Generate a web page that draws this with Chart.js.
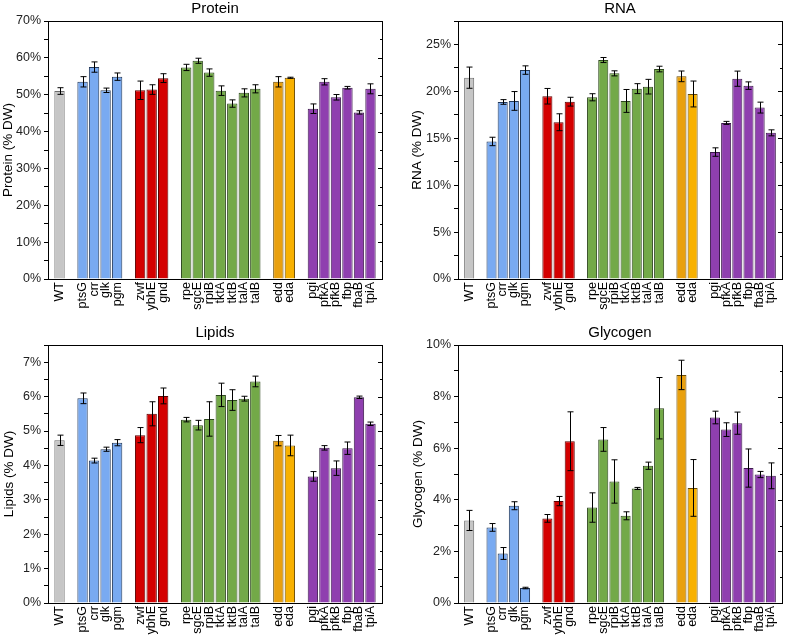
<!DOCTYPE html>
<html>
<head>
<meta charset="utf-8">
<script src="https://cdn.jsdelivr.net/npm/chart.js@4.4.1/dist/chart.umd.min.js"></script>
<style>
  body { margin: 0; background: #fff; }
  #wrap { position: relative; width: 800px; height: 637px; }
  canvas { position: absolute; }
</style>
</head>
<body>
<div id="wrap">
  <canvas id="proteinChart" width="400" height="318" style="left:0;top:0"></canvas>
  <canvas id="rnaChart" width="400" height="318" style="left:400px;top:0"></canvas>
  <canvas id="lipidChart" width="400" height="319" style="left:0;top:318px"></canvas>
  <canvas id="glycogenChart" width="400" height="319" style="left:400px;top:318px"></canvas>
</div>
<script>
// genes (x categories), grouped by pathway; a gap is left between groups
const genes = ['WT', 'ptsG', 'crr', 'glk', 'pgm', 'zwf', 'ybhE', 'gnd',
  'rpe', 'sgcE', 'rpiB', 'tktA', 'tktB', 'talA', 'talB', 'edd', 'eda',
  'pgi', 'pfkA', 'pfkB', 'fbp', 'fbaB', 'tpiA'];
const groups = [0, 1, 1, 1, 1, 2, 2, 2, 3, 3, 3, 3, 3, 3, 3, 4, 4, 5, 5, 5, 5, 5, 5];

const groupFill = ['#c6c6c6', '#79aaf1', '#d40000', '#73a948', '#f8b100', '#8f3faf'];
const groupEdge = ['#6a6a6a', '#22385a', '#5a0000', '#2e481e', '#6a4a00', '#3c1a4c'];
const fillOverride = { edd: '#e9a00e' };

// values in % of dry weight and error (±)
const proteinVals = [51.0, 53.5, 57.5, 51.2, 54.9, 51.2, 51.4, 54.5, 57.4, 59.2, 56.0, 51.1, 47.6, 50.5, 51.6, 53.5, 54.6, 46.2, 53.5, 49.3, 51.9, 45.2, 51.6];
const proteinErr = [0.9, 1.4, 1.4, 0.6, 1.0, 2.5, 1.3, 1.2, 0.85, 0.7, 1.0, 1.3, 1.0, 1.1, 1.1, 1.4, 0.15, 1.3, 0.85, 0.75, 0.35, 0.45, 1.35];

const rnaVals = [21.46, 14.66, 18.87, 18.98, 22.27, 19.48, 16.71, 18.9, 19.37, 23.34, 21.92, 18.98, 20.29, 20.5, 22.38, 21.6, 19.72, 13.53, 16.64, 21.35, 20.61, 18.27, 15.58];
const rnaErr = [1.13, 0.45, 0.25, 1.0, 0.45, 0.83, 0.9, 0.47, 0.38, 0.27, 0.27, 1.22, 0.53, 0.78, 0.3, 0.57, 1.38, 0.45, 0.16, 0.81, 0.4, 0.58, 0.32];

const lipidVals = [4.73, 5.95, 4.14, 4.47, 4.66, 4.88, 5.50, 6.02, 5.33, 5.17, 5.35, 6.05, 5.90, 5.94, 6.44, 4.72, 4.58, 3.68, 4.51, 3.92, 4.50, 5.98, 5.21];
const lipidErr = [0.15, 0.155, 0.07, 0.06, 0.09, 0.22, 0.35, 0.23, 0.065, 0.14, 0.5, 0.34, 0.3, 0.07, 0.155, 0.15, 0.3, 0.14, 0.065, 0.21, 0.18, 0.035, 0.05];

const glycogenVals = [3.2, 2.93, 1.92, 3.77, 0.58, 3.28, 3.95, 6.27, 3.70, 6.34, 4.71, 3.38, 4.44, 5.32, 7.55, 8.84, 4.46, 7.19, 6.72, 6.97, 5.23, 4.98, 4.93];
const glycogenErr = [0.39, 0.15, 0.23, 0.155, 0.03, 0.15, 0.18, 1.14, 0.57, 0.46, 0.84, 0.155, 0.04, 0.14, 1.19, 0.57, 1.1, 0.245, 0.265, 0.43, 0.74, 0.12, 0.5];

const FONT = "'Liberation Sans', Arial, sans-serif";

// insert empty slots between groups and at both ends
function padded(arr, blank) {
  const out = [blank];
  arr.forEach((v, i) => {
    if (i > 0 && groups[i] !== groups[i - 1]) out.push(blank);
    out.push(v);
  });
  out.push(blank);
  return out;
}

const labels = padded(genes, '');
const fills = padded(genes.map((g, i) => fillOverride[g] || groupFill[groups[i]]), 'transparent');
const edges = padded(genes.map((g, i) => groupEdge[groups[i]]), 'transparent');

// error bars drawn from the y scale
const errorBars = {
  id: 'errorBars',
  afterDatasetsDraw(chart) {
    const ctx = chart.ctx;
    const y = chart.scales.y;
    const meta = chart.getDatasetMeta(0);
    const ds = chart.data.datasets[0];
    ctx.save();
    ctx.strokeStyle = '#000';
    ctx.lineWidth = 1;
    meta.data.forEach((bar, i) => {
      const v = ds.data[i], e = ds.errors[i];
      if (v == null) return;
      const x = Math.round(bar.x) + 0.5;
      const top = y.getPixelForValue(v + e);
      const bot = y.getPixelForValue(v - e);
      ctx.beginPath();
      ctx.moveTo(x, top); ctx.lineTo(x, bot);
      ctx.moveTo(x - 3, top); ctx.lineTo(x + 3, top);
      ctx.moveTo(x - 3, bot); ctx.lineTo(x + 3, bot);
      ctx.stroke();
    });
    ctx.restore();
  }
};

// box around the plot with ticks on the right side
const frame = {
  id: 'frame',
  afterDraw(chart) {
    const { ctx, chartArea: a } = chart;
    const y = chart.scales.y;
    ctx.save();
    ctx.strokeStyle = '#000';
    ctx.lineWidth = 1;
    ctx.strokeRect(Math.round(a.left) + 0.5, Math.round(a.top) + 0.5,
      Math.round(a.right - a.left), Math.round(a.bottom - a.top));
    ctx.beginPath();
    y.ticks.forEach(t => {
      const py = Math.round(y.getPixelForValue(t.value)) + 0.5;
      const len = t.label ? 4 : 2;
      ctx.moveTo(a.right, py); ctx.lineTo(a.right - len, py);
    });
    ctx.stroke();
    ctx.restore();
  }
};

function makeChart(id, title, yTitle, vals, errs, max, step, major, lay) {
  new Chart(document.getElementById(id), {
    type: 'bar',
    data: {
      labels: labels,
      datasets: [{
        data: padded(vals, null),
        errors: padded(errs, null),
        backgroundColor: fills,
        borderColor: edges,
        borderWidth: 1,
        barPercentage: 0.9,
        categoryPercentage: 1
      }]
    },
    options: {
      responsive: false,
      animation: false,
      layout: { padding: { left: 0, right: lay.right, top: 0, bottom: 0 } },
      plugins: {
        legend: { display: false },
        tooltip: { enabled: false },
        title: {
          display: true,
          text: title,
          color: '#000',
          fullSize: false,
          font: { family: FONT, size: 15, weight: 'normal' },
          padding: { top: lay.titleTop, bottom: 3 }
        }
      },
      scales: {
        x: {
          offset: false,
          grid: { display: false, drawTicks: false },
          border: { display: false },
          ticks: {
            autoSkip: false,
            maxRotation: 90,
            minRotation: 90,
            padding: 3,
            color: '#000',
            font: { family: FONT, size: 12.5 }
          },
          afterFit: s => { s.height = lay.xHeight; }
        },
        y: {
          min: 0,
          max: max,
          grid: { drawOnChartArea: false, drawTicks: true, tickLength: 4, color: '#000' },
          border: { display: true, color: '#000' },
          ticks: {
            stepSize: step,
            autoSkip: false,
            padding: 3,
            color: '#222',
            font: { family: FONT, size: 12.5 },
            callback: v => (Math.abs(v / major - Math.round(v / major)) < 1e-6 ? Math.round(v) + '%' : '')
          },
          title: {
            display: true,
            text: yTitle,
            color: '#000',
            font: { family: FONT, size: 13.5 },
            padding: { top: lay.yTitlePad, bottom: 0 }
          },
          afterFit: s => { s.width = lay.yWidth; }
        }
      }
    },
    plugins: [errorBars, frame]
  });
}

makeChart('proteinChart', 'Protein', 'Protein (% DW)', proteinVals, proteinErr, 70, 5, 10,
  { right: 11, titleTop: 0, xHeight: 39, yWidth: 48, yTitlePad: 0 });
makeChart('rnaChart', 'RNA', 'RNA (% DW)', rnaVals, rnaErr, 27.5, 2.5, 5,
  { right: 2, titleTop: 0, xHeight: 39, yWidth: 58, yTitlePad: 9 });
makeChart('lipidChart', 'Lipids', 'Lipids (% DW)', lipidVals, lipidErr, 7.5, 0.5, 1,
  { right: 12, titleTop: 6, xHeight: 34, yWidth: 48, yTitlePad: 1 });
makeChart('glycogenChart', 'Glycogen', 'Glycogen (% DW)', glycogenVals, glycogenErr, 10, 1, 2,
  { right: 2, titleTop: 6, xHeight: 34, yWidth: 58, yTitlePad: 10 });
</script>
</body>
</html>
